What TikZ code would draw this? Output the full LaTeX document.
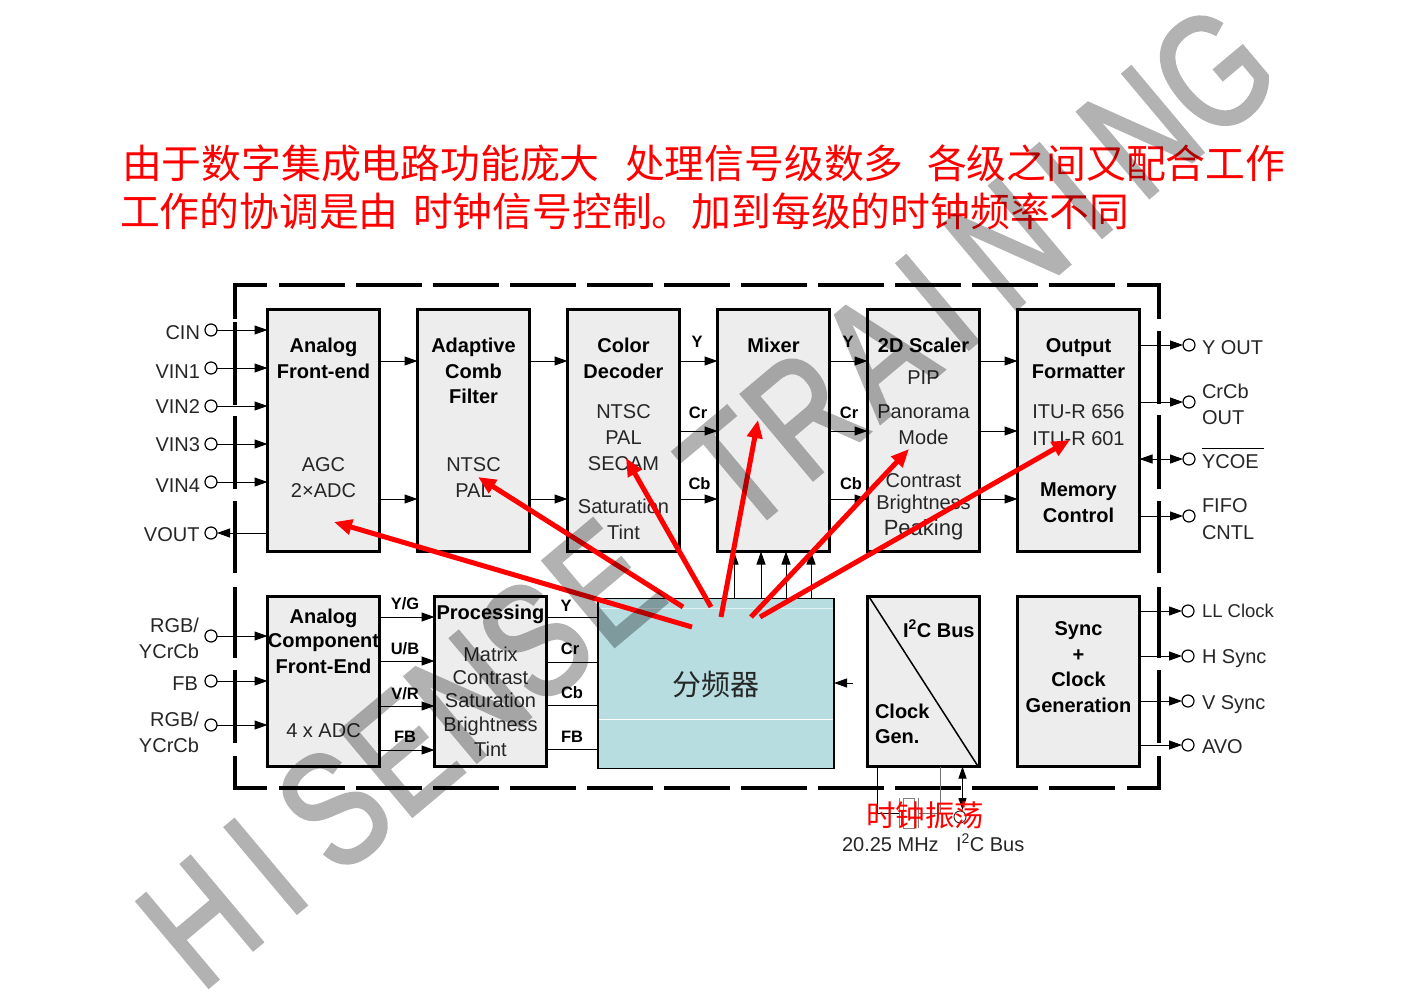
\documentclass[tikz,border=0pt]{standalone}
\usepackage{fontspec}
\setmainfont{Liberation Sans}
\newfontfamily\cjk{Noto Sans CJK SC}
\newfontfamily\wmf[FakeStretch=0.77,FakeBold=2]{Liberation Sans}
\usetikzlibrary{arrows.meta,calc}
\newcount\lbc
\newcommand\lb[4][]{\global\advance\lbc by 1\relax\node[lbl,#1] (L\the\lbc) at (#2,#3) {#4};}
\newcommand\ringnode[3]{\node[ring] (#1) at (#2,#3) {};}
\newcommand\ruleseg[4]{\draw[frame] (#1,#2) -- (#3,#4);}
\newcommand\wml[3]{\node[wm] (#1) at ({208.6+0.766*#2},{987-0.643*#2}) {#3};}
\tikzset{
 lbl/.style={anchor=base,inner sep=0pt,outer sep=0pt,font=\fontsize{20}{20}\selectfont,text=black!85},
 bld/.style={font=\fontsize{20}{20}\bfseries\selectfont,text=black},
 sm/.style={font=\fontsize{16.5}{16.5}\bfseries\selectfont,text=black},
 lft/.style={anchor=base west},
 rgt/.style={anchor=base east},
 blk/.style={draw=black,line width=3pt,fill=black!7,inner sep=0,outer sep=0,anchor=north west},
 ring/.style={circle,draw=black,line width=1.2pt,fill=white,minimum size=12pt,inner sep=0,outer sep=0},
 conn/.style={draw=black,line width=1pt,-{Triangle[length=13pt,width=9pt]}},
 wire/.style={draw=black,line width=1pt},
 frame/.style={draw=black,line width=4pt},
 redarr/.style={draw=red,line width=5pt,-{Triangle[length=18pt,width=15pt]}},
 head/.style={anchor=west,inner sep=0,outer sep=0,text=red,font=\fontsize{39.8}{40}\cjk\selectfont},
 wm/.style={anchor=base west,rotate=40,inner sep=0,outer sep=0,text=black,font=\fontsize{162}{162}\wmf\selectfont},
}
\begin{document}
\begin{tikzpicture}[x=1pt,y=-1pt]
\useasboundingbox (0,0) rectangle (1404,993);
% heading
\node[head] (h1) at (122,163) {由于数字集成电路功能庞大};
\node[head] (h2) at (625,163) {处理信号级数多};
\node[head] (h3) at (927,163) {各级之间又配合工作};
\node[head] (h4) at (120,211) {工作的协调是由};
\node[head] (h5) at (413,211) {时钟信号控制。加到每级的时钟频率不同};
% dashed frame
\foreach \yy in {285,788}{
 \draw[frame] (235,\yy) -- (267,\yy);
 \foreach \k in {0,...,10}{\draw[frame] ({279+77*\k},\yy) -- ({345+77*\k},\yy);}
 \draw[frame] (1127,\yy) -- (1159,\yy);
}
\ruleseg{235}{283}{235}{319}\ruleseg{235}{322}{235}{405}\ruleseg{235}{416}{235}{489}\ruleseg{235}{501}{235}{573}
\ruleseg{235}{587}{235}{658}\ruleseg{235}{670}{235}{743}\ruleseg{235}{756}{235}{790}
\ruleseg{1159}{283}{1159}{319}\ruleseg{1159}{331}{1159}{404}\ruleseg{1159}{415}{1159}{489}\ruleseg{1159}{501}{1159}{573}
\ruleseg{1159}{587}{1159}{658}\ruleseg{1159}{670}{1159}{743}\ruleseg{1159}{756}{1159}{790}
% blocks
\node[blk,minimum width=112pt,minimum height=242pt] (afe) at (267.5,309.5) {};
\node[blk,minimum width=112pt,minimum height=242pt] (acf) at (417.5,309.5) {};
\node[blk,minimum width=112pt,minimum height=242pt] (col) at (567.5,309.5) {};
\node[blk,minimum width=112pt,minimum height=242pt] (mix) at (717.5,309.5) {};
\node[blk,minimum width=112pt,minimum height=242pt] (scl) at (867.5,309.5) {};
\node[blk,minimum width=122pt,minimum height=242pt] (out) at (1017.5,309.5) {};
\node[blk,minimum width=112pt,minimum height=170pt] (cfe) at (267.5,596.5) {};
\node[blk,minimum width=112pt,minimum height=170pt] (prc) at (434.5,596.5) {};
\node[blk,minimum width=112pt,minimum height=170pt] (clk) at (867.5,596.5) {};
\node[blk,minimum width=122pt,minimum height=170pt] (syn) at (1017.5,596.5) {};
\node[draw=black,line width=1.5pt,inner sep=0,outer sep=0,anchor=north west,minimum width=236pt,minimum height=170pt,fill={rgb,255:red,183;green,221;blue,224}] (div) at (598,598.5) {};
\draw[white,line width=0.5pt,opacity=.6] ($(div.north west)+(1,10)$) -- ($(div.north east)+(-1,10)$);
\draw[white,line width=1pt] ($(div.west)+(1,36)$) -- ($(div.east)+(-1,36)$);
\draw[line width=1.5pt] ($(clk.north west)+(2,1)$) -- ($(clk.south east)+(-2,-1)$);
\node[inner sep=0,outer sep=0,font=\fontsize{29}{29}\cjk\selectfont,text=black!85] (divt) at (716,684) {分频器};
% left inputs
\ringnode{cin}{211}{330}\ringnode{vi1}{211}{368}\ringnode{vi2}{211}{406}\ringnode{vi3}{211}{444}\ringnode{vi4}{211}{482}\ringnode{vot}{211}{533}
\foreach \n in {cin,vi1,vi2,vi3,vi4}{\draw[conn] (\n.east) -- (\n.east -| afe.west);}
\draw[conn] (vot.east -| afe.west) -- (vot.east);
\ringnode{rg1}{211}{636}\ringnode{fbi}{211}{681}\ringnode{rg2}{211}{725}
\foreach \n in {rg1,fbi,rg2}{\draw[conn] (\n.east) -- (\n.east -| cfe.west);}
% block to block
\foreach \yy in {361,499}{
 \draw[conn] (afe.east |- 0,\yy) -- (acf.west |- 0,\yy);
 \draw[conn] (acf.east |- 0,\yy) -- (col.west |- 0,\yy);}
\foreach \yy in {361,431,499}{
 \draw[conn] (col.east |- 0,\yy) -- (mix.west |- 0,\yy);
 \draw[conn] (mix.east |- 0,\yy) -- (scl.west |- 0,\yy);
 \draw[conn] (scl.east |- 0,\yy) -- (out.west |- 0,\yy);}
\foreach \yy in {617,661,706,750}{\draw[conn] (cfe.east |- 0,\yy) -- (prc.west |- 0,\yy);}
\foreach \yy in {617,662,705,749}{\draw[wire] (prc.east |- 0,\yy) -- (div.west |- 0,\yy);}
\foreach \xx in {734,761,786,811}{\draw[conn] (div.north -| \xx,0) -- (mix.south -| \xx,0);}
\coordinate (dvin) at (853,683);
\draw[conn] (dvin) -- (dvin -| div.east);
% right outputs
\ringnode{yot}{1189}{345}\ringnode{cot}{1189}{402}\ringnode{yco}{1189}{459}\ringnode{fif}{1189}{516}
\foreach \n in {yot,cot,yco,fif}{\draw[conn] (\n.west -| out.east) -- (\n.west);}
\draw[conn] (yco.west -| 1166,0) -- (yco.west -| out.east);
\node[ring,minimum height=10pt,minimum width=12pt] (llc) at (1188,611) {};
\ringnode{hsy}{1188}{656}\ringnode{vsy}{1188}{701}\ringnode{avo}{1188}{745}
\foreach \n in {llc,hsy,vsy,avo}{\draw[conn] (\n.west -| syn.east) -- (\n.west);}
% crystal and bus
\coordinate (xa) at (877,813);\coordinate (xb) at (940,813);
\draw[wire] (clk.south -| xa) -- (xa) -- (899,813);
\draw[wire,draw=black!55] (clk.south -| xb) -- (xb) -- (918,813);
\draw[draw=black!50,line width=1pt] (899,798) -- (899,828) (918,798) -- (918,828);
\node[draw=black!50,line width=1pt,inner sep=0,outer sep=0,minimum width=11pt,minimum height=30pt] (xtal) at (909,813) {};
\node[circle,draw=black!80,line width=1pt,minimum size=12pt,inner sep=0,outer sep=0] (bus) at (960,817) {};
\draw[draw=black,line width=1pt,{Triangle[length=12pt,width=8pt]}-{Triangle[length=12pt,width=8pt]}] (clk.south -| 962.5,0) -- (962.5,810);
% left labels
\lb[rgt]{200}{339}{CIN}\lb[rgt]{200}{378}{VIN1}\lb[rgt]{200}{413}{VIN2}\lb[rgt]{200}{451}{VIN3}\lb[rgt]{200}{492}{VIN4}\lb[rgt]{199.5}{541}{VOUT}
\lb[rgt]{199}{632}{RGB/}\lb[rgt]{199}{752}{YCrCb}\lb[rgt]{199}{658}{YCrCb}\lb[rgt]{198}{690}{FB}\lb[rgt]{199}{726}{RGB/}
% block text
\lb[bld]{323.5}{352}{Analog}\lb[bld]{323.5}{378}{Front-end}\lb{323.5}{471}{AGC}\lb{323.5}{497}{2×ADC}
\lb[bld]{473.5}{352}{Adaptive}\lb[bld]{473.5}{378}{Comb}\lb[bld]{473.5}{403}{Filter}\lb{473.5}{471}{NTSC}\lb{473.5}{497}{PAL}
\lb[bld]{623.5}{352}{Color}\lb[bld]{623.5}{378}{Decoder}\lb{623.5}{418}{NTSC}\lb{623.5}{444}{PAL}\lb{623.5}{470}{SECAM}\lb{623.5}{513}{Saturation}\lb{623.5}{539}{Tint}
\lb[bld]{773.5}{352}{Mixer}
\lb[bld]{923.5}{352}{2D Scaler}\lb{923.5}{384}{PIP}\lb{923.5}{418}{Panorama}\lb{923.5}{444}{Mode}\lb{923.5}{487}{Contrast}\lb{923.5}{509}{Brightness}\lb[font=\fontsize{22}{22}\selectfont]{923.5}{535}{Peaking}
\lb[bld]{1078.5}{352}{Output}\lb[bld]{1078.5}{378}{Formatter}\lb{1078.5}{418}{ITU-R 656}\lb{1078.5}{445}{ITU-R 601}\lb[bld]{1078.5}{496}{Memory}\lb[bld]{1078.5}{522}{Control}
\lb[bld]{323.5}{623}{Analog}\lb[bld]{323.5}{647}{Component}\lb[bld]{323.5}{673}{Front-End}\lb{323.5}{737}{4 x ADC}
\lb[bld]{490.5}{619}{Processing}\lb{490.5}{661}{Matrix}\lb{490.5}{684}{Contrast}\lb{490.5}{707}{Saturation}\lb{490.5}{731}{Brightness}\lb{490.5}{756}{Tint}
\lb[bld]{1078.5}{635}{Sync}\lb[bld]{1078.5}{661}{+}\lb[bld]{1078.5}{686}{Clock}\lb[bld]{1078.5}{712}{Generation}
\lb[bld,lft]{903}{637}{I\textsuperscript{2}C Bus}\lb[bld,lft]{875}{718}{Clock}\lb[bld,lft]{875}{743}{Gen.}
% small signal labels
\lb[sm]{697}{347}{Y}\lb[sm]{698}{418}{Cr}\lb[sm]{699.5}{489}{Cb}
\lb[sm]{848}{347}{Y}\lb[sm]{849}{418}{Cr}\lb[sm]{851}{489}{Cb}
\lb[sm]{405}{609}{Y/G}\lb[sm]{405}{654}{U/B}\lb[sm]{405}{699}{V/R}\lb[sm]{405}{742}{FB}
\lb[sm]{566}{611}{Y}\lb[sm]{570}{654}{Cr}\lb[sm]{572}{698}{Cb}\lb[sm]{572}{742}{FB}
% right labels
\lb[lft]{1202}{354}{Y OUT}\lb[lft]{1202}{398}{CrCb}\lb[lft]{1202}{424}{OUT}\lb[lft]{1202}{468}{YCOE}\lb[lft]{1202}{512}{FIFO}\lb[lft]{1202}{539}{CNTL}
\coordinate (ovl) at (1202,448);
\draw[line width=1pt] (ovl) -- ++(62,0);
\lb[lft,font=\fontsize{18.5}{18.5}\selectfont]{1202}{617}{LL Clock}\lb[lft]{1202}{663}{H Sync}\lb[lft]{1202}{709}{V Sync}\lb[lft]{1202}{753}{AVO}
\lb[lft]{842}{851}{20.25 MHz}\lb[lft]{956}{851}{I\textsuperscript{2}C Bus}
% red arrows
\coordinate (r1) at (692,627);\coordinate (r1e) at (334,522);
\coordinate (r2) at (683,607);\coordinate (r2e) at (478,477);
\coordinate (r3) at (711,607);\coordinate (r3e) at (626,458);
\coordinate (r4) at (721,617);\coordinate (r4e) at (758,420);
\coordinate (r5) at (751,617);\coordinate (r5e) at (909,449);
\coordinate (r6) at (760,617);\coordinate (r6e) at (1070,440);
\foreach \i in {1,...,6}{\draw[redarr] (r\i) -- (r\i e);}
\node[inner sep=0,outer sep=0,text=red,font=\fontsize{29.5}{29.5}\cjk\selectfont] (redt) at (925,815) {时钟振荡};
% watermark
\begin{scope}[transparency group,opacity=0.3]
\wml{w1}{-10}{H}\wml{w2}{104}{I}
\wml{w3}{169}{S}\wml{w4}{256}{E}\wml{w5}{340}{N}\wml{w6}{431}{S}\wml{w7}{520}{E}
\wml{w8}{697}{T}\wml{w9}{779}{R}\wml{w10}{877}{A}\wml{w11}{981}{I}\wml{w12}{1044}{N}\wml{w13}{1155}{I}\wml{w14}{1218}{N}\wml{w15}{1309}{G}
\end{scope}
\end{tikzpicture}
\end{document}
